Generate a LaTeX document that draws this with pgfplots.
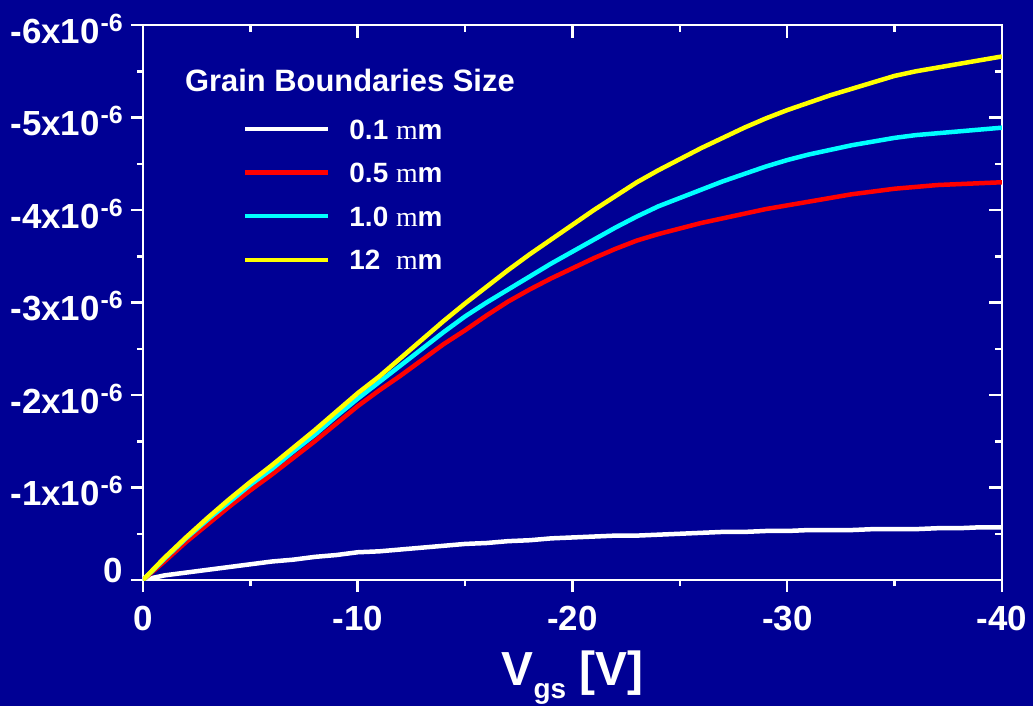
\documentclass[border=0pt]{standalone}
\usepackage{fontspec}
\setmainfont{Liberation Sans}
\newfontfamily\tms{Liberation Serif}
\usepackage{pgfplots}
\usepackage{pgfplotstable}
\pgfplotsset{compat=1.18}
\definecolor{navy}{RGB}{0,0,148}
\definecolor{cred}{RGB}{255,0,0}
\definecolor{ccyan}{RGB}{0,255,255}
\definecolor{cyel}{RGB}{255,255,0}
\newcommand\ex{x10\kern1bp\raisebox{12bp}{\fontsize{25}{25}\selectfont -6}}
\pgfplotstableread{
V w r c y
0 0 0 0 0
-1 -0.05 -0.20 -0.23 -0.24
-2 -0.08 -0.41 -0.45 -0.46
-3 -0.11 -0.60 -0.65 -0.67
-4 -0.14 -0.79 -0.84 -0.87
-5 -0.17 -0.97 -1.03 -1.06
-6 -0.20 -1.14 -1.20 -1.24
-7 -0.22 -1.32 -1.39 -1.43
-8 -0.25 -1.50 -1.57 -1.62
-9 -0.27 -1.69 -1.77 -1.82
-10 -0.30 -1.88 -1.96 -2.02
-11 -0.31 -2.05 -2.14 -2.20
-12 -0.33 -2.21 -2.32 -2.40
-13 -0.35 -2.38 -2.50 -2.60
-14 -0.37 -2.55 -2.68 -2.80
-15 -0.39 -2.70 -2.85 -2.99
-16 -0.40 -2.86 -3.00 -3.17
-17 -0.42 -3.01 -3.14 -3.35
-18 -0.43 -3.14 -3.28 -3.52
-19 -0.45 -3.26 -3.42 -3.68
-20 -0.46 -3.37 -3.55 -3.84
-21 -0.47 -3.48 -3.68 -4.00
-22 -0.48 -3.58 -3.81 -4.15
-23 -0.48 -3.67 -3.93 -4.30
-24 -0.49 -3.74 -4.04 -4.43
-25 -0.50 -3.80 -4.13 -4.55
-26 -0.51 -3.86 -4.22 -4.67
-27 -0.52 -3.91 -4.31 -4.78
-28 -0.52 -3.96 -4.39 -4.89
-29 -0.53 -4.01 -4.47 -4.99
-30 -0.53 -4.05 -4.54 -5.08
-31 -0.54 -4.09 -4.60 -5.16
-32 -0.54 -4.13 -4.65 -5.24
-33 -0.54 -4.17 -4.70 -5.31
-34 -0.55 -4.20 -4.74 -5.38
-35 -0.55 -4.23 -4.78 -5.45
-36 -0.55 -4.25 -4.81 -5.50
-37 -0.56 -4.27 -4.83 -5.54
-38 -0.56 -4.28 -4.85 -5.58
-39 -0.57 -4.29 -4.87 -5.62
-40 -0.57 -4.30 -4.89 -5.66
}\data
\pgfplotsset{
  common/.style={
    width=859bp, height=555bp, scale only axis,
    xmin=-40, xmax=0, x dir=reverse,
    ymin=-6, ymax=0, y dir=reverse,
    xtick={0,-10,-20,-30,-40},
    ytick={0,-1,-2,-3,-4,-5,-6},
    minor x tick num=1, minor y tick num=1,
    tick style={white, line width=2.5bp},
  }
}
\begin{document}
\begin{tikzpicture}
\path[use as bounding box, fill=navy] (-143bp,-126bp) rectangle ++(1033bp,706bp);
\begin{axis}[common,
  axis line style={white, line width=2.5bp},
  tick align=outside, xtick pos=left, ytick pos=left,
  major tick length=12bp, minor tick length=6bp,
  xticklabels={0,-10,-20,-30,-40},
  yticklabels={\raisebox{16bp}{0},-1\ex,-2\ex,-3\ex,-4\ex,-5\ex,-6\ex},
  xticklabel style={anchor=base, inner sep=0pt, text=white, font=\fontsize{35}{35}\selectfont\bfseries, yshift=-38bp},
  yticklabel style={anchor=base east, inner sep=0pt, text=white, font=\fontsize{35}{35}\selectfont\bfseries, xshift=-8bp, yshift=-18bp},
  xlabel={V\raisebox{-13bp}{\fontsize{28}{28}\selectfont gs}\ [V]},
  xlabel style={at={(axis description cs:0.5,0)}, anchor=base, yshift=-105bp, inner sep=0pt, text=white, font=\fontsize{48}{48}\selectfont\bfseries},
  legend style={at={(axis description cs:0,1)}, anchor=north west, xshift=100bp, yshift=-94bp,
    draw=none, fill=none, inner sep=0pt, outer sep=0pt, row sep=23.6bp, column sep=0pt,
    font=\fontsize{28}{28}\selectfont\bfseries,
    nodes={inner sep=0pt, text height=20bp, text depth=0pt, text=white},
    /tikz/every odd column/.append style={column sep=19bp}},
  legend cell align=left,
  legend image code/.code={\draw[#1] (0bp,0bp) -- (83bp,0bp);},
]
\addplot[white, line width=4.5bp, line join=round] table[x=V,y=w]{\data};
\addlegendentry{0.1 {\tms\mdseries m}m}
\addplot[cred, line width=4.5bp, line join=round] table[x=V,y=r]{\data};
\addlegendentry{0.5 {\tms\mdseries m}m}
\addplot[ccyan, line width=4.5bp, line join=round] table[x=V,y=c]{\data};
\addlegendentry{1.0 {\tms\mdseries m}m}
\addplot[cyel, line width=4.5bp, line join=round] table[x=V,y=y]{\data};
\addlegendentry{12\ \ {\tms\mdseries m}m}
\node[anchor=base west, inner sep=0pt, text=white, font=\fontsize{31}{31}\selectfont\bfseries] at ([xshift=42bp,yshift=-66bp]axis description cs:0,1) {Grain Boundaries Size};
\end{axis}
\begin{axis}[common,
  axis line style={draw=none},
  tick align=inside, xtick pos=right, ytick pos=right,
  major tick length=13bp, minor tick length=7bp,
  xticklabels={}, yticklabels={},
]
\end{axis}
\end{tikzpicture}
\end{document}
